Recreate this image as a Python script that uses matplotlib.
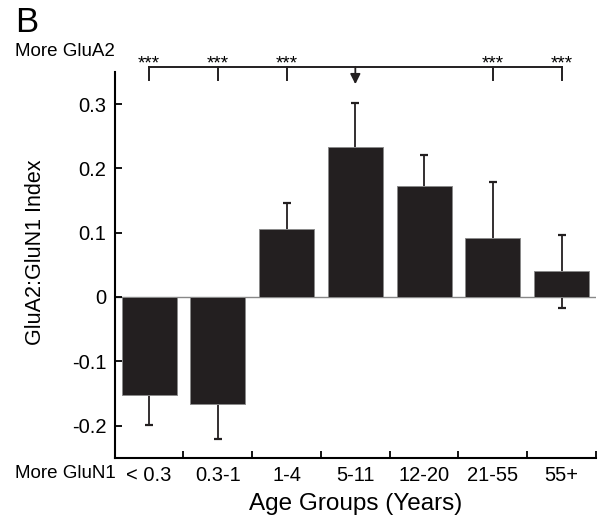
import numpy as np
import matplotlib.pyplot as plt

plt.rcParams['font.family'] = ['Liberation Sans', 'DejaVu Sans']

# data
groups = ['< 0.3', '0.3-1', '1-4', '5-11', '12-20', '21-55', '55+']
index_mean = [-0.152, -0.166, 0.1065, 0.234, 0.172, 0.091, 0.040]
index_err = [0.047, 0.055, 0.040, 0.067, 0.049, 0.0885, 0.057]
sig_groups = [1, 2, 3, 6, 7]   # groups marked *** against 5-11
ref_group = 4

x = np.arange(1, len(groups) + 1)

fig = plt.figure(figsize=(6.02, 5.25), dpi=100)
ax = fig.add_axes([0.1905, 0.1282, 0.7995, 0.7347])

ax.axhline(0, color='#888888', lw=1.0, zorder=1)
ax.bar(x, index_mean, width=0.8, color='#231f20', edgecolor='#8a8a8a',
       linewidth=0.7, zorder=3)
ax.errorbar(x, index_mean, yerr=index_err, fmt='none', ecolor='#231f20',
            elinewidth=1.3, capsize=2.6, capthick=1.6, zorder=2)

ax.set_xlim(0.5, 7.5)
ax.set_ylim(-0.25, 0.35)
ax.set_yticks([-0.2, -0.1, 0, 0.1, 0.2, 0.3])
ax.set_yticklabels(['-0.2', '-0.1', '0', '0.1', '0.2', '0.3'])
ax.set_xticks(x)
ax.set_xticklabels(groups)
ax.set_xticks(np.arange(1.5, 8.0, 1.0), minor=True)
ax.tick_params(axis='x', which='major', length=0, pad=6, labelsize=14.5)
ax.tick_params(axis='x', which='minor', direction='in', length=5, width=1.3)
ax.tick_params(axis='y', direction='in', length=5, width=1.3, pad=6,
               labelsize=14.5)

for s in ['top', 'right']:
    ax.spines[s].set_visible(False)
for s in ['left', 'bottom']:
    ax.spines[s].set_linewidth(1.5)

ax.set_xlabel('Age Groups (Years)', fontsize=17.5, labelpad=6)
fig.text(36 / 602, 1 - 252 / 525, 'GluA2:GluN1 Index', rotation=90,
         fontsize=15.5, ha='center', va='center')

# significance bracket above the axes
y_line = 0.358
y_foot = 0.3376
ax.plot([sig_groups[0], sig_groups[-1]], [y_line, y_line], color='#231f20',
        lw=1.4, clip_on=False)
for g in sig_groups:
    ax.plot([g, g], [y_line, y_foot], color='#231f20', lw=1.4, clip_on=False)
    ax.text(g, 0.355, '***', ha='center', va='baseline', fontsize=13.5)
ax.annotate('', xy=(ref_group, 0.331), xytext=(ref_group, y_line),
            arrowprops=dict(arrowstyle='-|>', color='#231f20', lw=1.3,
                            mutation_scale=15, shrinkA=0, shrinkB=0),
            annotation_clip=False)

fig.text(15 / 602, 1 - 22 / 525, 'B', fontsize=25, ha='left', va='center')
fig.text(15 / 602, 1 - 52 / 525, 'More GluA2', fontsize=13.5, ha='left',
         va='center')
fig.text(15 / 602, 1 - 473 / 525, 'More GluN1', fontsize=13.5, ha='left',
         va='center')

fig.savefig('out.png', dpi=100)
